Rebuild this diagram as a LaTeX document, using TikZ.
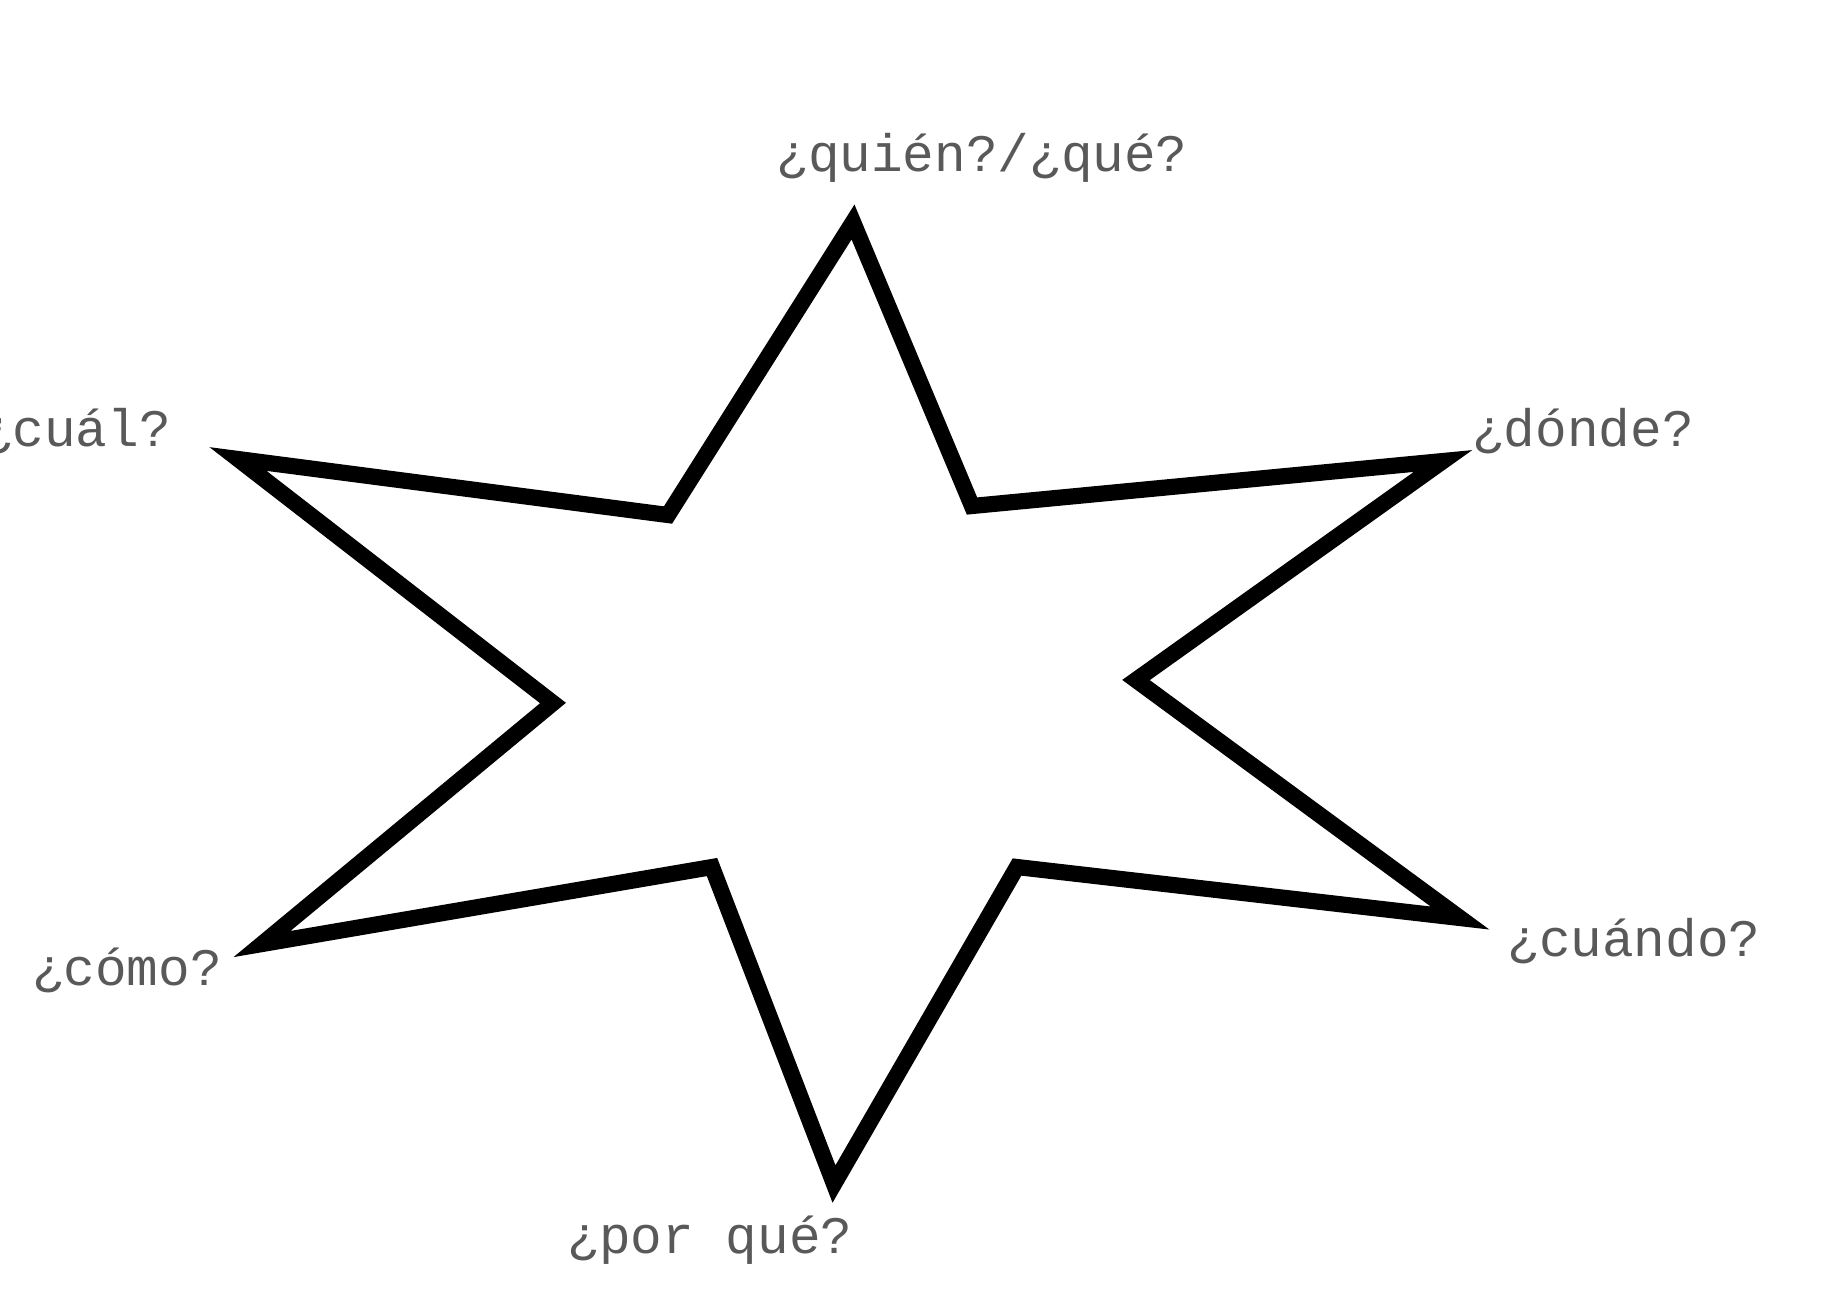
\documentclass[tikz,border=0pt]{standalone}
\usepackage{fontspec}
\newfontfamily\qfont{Liberation Mono}

\begin{document}
\begin{tikzpicture}[x=0.1mm,y=-0.1mm,
  qlabel/.style={font=\qfont\fontsize{15}{18}\selectfont,text=black!65,inner sep=0pt}]
\useasboundingbox (0,0) rectangle (1837,1314);
\draw[line width=4.6pt,line join=miter,miter limit=20]
  (853,222) -- (668,515) -- (238,459) -- (553,703) -- (262,944) -- (712,867)
  -- (834,1184) -- (1017,867) -- (1460,918) -- (1136,680) -- (1443,461) -- (972,506) -- cycle;
\node[qlabel] (quien) at (982,158) {¿quién?/¿qué?};
\node[qlabel] (donde) at (1583,431) {¿dónde?};
\node[qlabel] (cuando) at (1634,941) {¿cuándo?};
\node[qlabel] (porque) at (710,1240) {¿por qué?};
\node[qlabel] (como) at (127,970) {¿cómo?};
\node[qlabel] (cual) at (76,431) {¿cuál?};
\end{tikzpicture}
\end{document}
